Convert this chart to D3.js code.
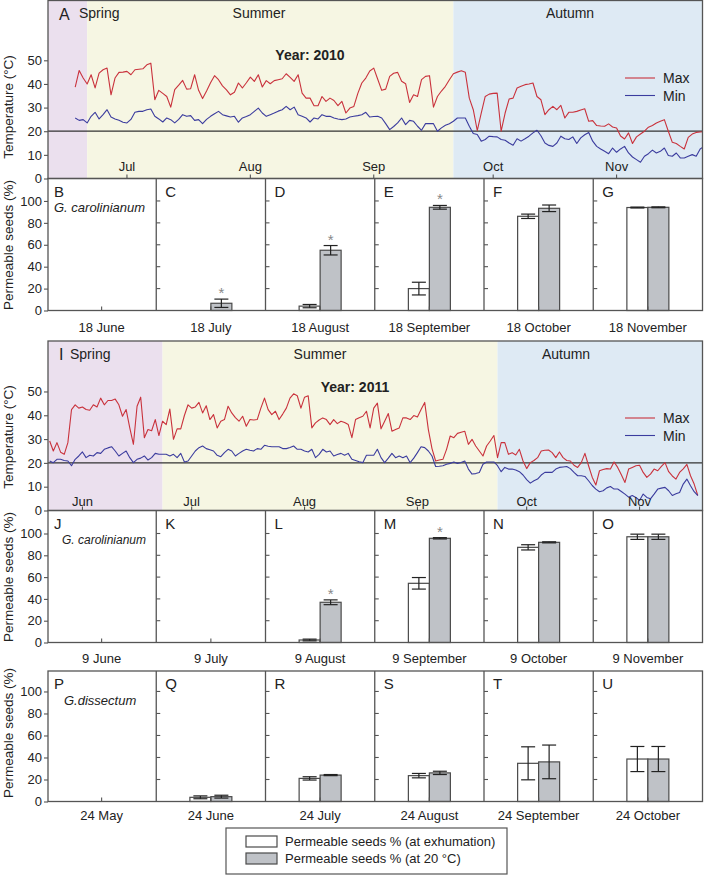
<!DOCTYPE html>
<html lang="en">
<head>
<meta charset="UTF-8">
<title>Seed permeability and soil temperature</title>
<script src="https://d3js.org/d3.v7.min.js"></script>
<style>
  body { margin: 0; background: #fff; }
  svg { font-family: "Liberation Sans", Arial, Helvetica, sans-serif; }
  svg text { fill: #222; }
  .frame { fill: none; stroke: #555; stroke-width: 1.3; }
  .tick-line { stroke: #555; stroke-width: 1.1; }
  .axis path { display: none; }
  .axis line { stroke: #555; stroke-width: 1.1; }
  .axis text { font-size: 13px; fill: #222; }
</style>
</head>
<body>
<div id="chart"></div>
<script>
// ---- daily soil temperatures (deg C) ----
const start2010 = "2010-06-18";
const max2010 = [
  38.7, 45.7, 42.5, 40.0, 43.9, 38.3, 44.6, 46.0, 46.7, 35.4, 42.5, 44.9, 45.0,
  45.3, 43.9, 46.0, 46.2, 46.4, 48.1, 48.8, 33.3, 37.3, 36.0,
  34.7, 30.2, 37.6, 39.5, 41.5, 37.8, 38.0, 43.9, 37.3, 33.8,
  37.0, 40.5, 43.5, 41.8, 39.2, 37.5, 35.4, 36.5, 40.4, 38.3,
  40.5, 42.9, 41.1, 43.9, 38.7, 41.4, 40.1, 41.4, 41.8, 42.2,
  44.3, 42.8, 41.1, 43.9, 36.1, 34.0, 34.0, 30.8, 30.8, 34.7,
  32.6, 34.0, 33.0, 30.8, 32.6, 27.7, 29.8, 30.5, 36.0, 40.4,
  42.5, 45.5, 46.7, 42.0, 37.3, 37.8, 43.2, 44.5, 44.9, 41.1,
  40.1, 32.2, 35.4, 34.7, 41.8, 43.2, 43.5, 30.2, 34.7, 37.0,
  39.0, 41.8, 44.3, 45.0, 45.6, 44.9, 34.0, 29.1, 20.3, 27.7,
  34.7, 35.7, 36.0, 36.1, 20.0, 27.7, 33.6, 34.0, 38.3, 39.0,
  39.7, 40.0, 40.4, 34.7, 33.3, 27.0, 29.1, 30.5, 29.1, 30.9,
  25.6, 28.0, 28.0, 28.4, 29.0, 29.5, 24.2, 24.5, 22.4, 22.2,
  22.1, 23.1, 21.8, 21.4, 18.0, 16.7, 19.3, 14.8, 17.6, 18.8,
  20.0, 21.7, 22.4, 23.5, 24.2, 24.9, 20.0, 15.3, 14.8, 13.6,
  12.5, 17.4, 18.8, 19.5, 19.7, 19.8
];
const min2010 = [
  25.6, 24.6, 24.9, 23.5, 26.3, 28.0, 25.2, 27.0, 29.1, 26.0, 25.2, 24.6, 23.8,
  23.5, 25.0, 28.0, 28.4, 28.4, 29.1, 29.4, 26.3, 25.2, 23.9,
  25.6, 24.9, 23.5, 25.0, 27.0, 26.3, 26.6, 24.6, 24.9, 23.2,
  25.0, 26.3, 27.4, 28.4, 27.0, 26.5, 26.0, 26.3, 23.8, 25.6,
  26.2, 27.0, 28.4, 29.8, 27.7, 26.3, 27.0, 27.7, 28.5, 29.1,
  30.5, 29.1, 30.2, 27.0, 26.3, 25.6, 23.9, 25.6, 25.2, 27.0,
  26.3, 26.3, 25.6, 25.2, 24.9, 25.2, 26.0, 26.3, 26.6, 27.0,
  28.0, 26.0, 26.2, 26.3, 25.6, 23.2, 20.7, 22.0, 23.5, 25.6,
  22.8, 24.6, 24.2, 22.1, 20.4, 23.2, 23.2, 23.2, 20.0, 21.4,
  22.5, 23.2, 24.2, 25.6, 25.6, 25.6, 22.1, 19.0, 18.6, 15.8,
  16.5, 17.9, 17.7, 17.6, 16.5, 16.2, 15.0, 14.1, 16.8, 15.8,
  16.8, 17.9, 19.3, 20.4, 18.1, 15.0, 14.0, 13.6, 15.0, 17.9,
  16.8, 16.5, 17.6, 14.8, 17.2, 18.5, 19.5, 15.8, 13.6, 12.5,
  11.5, 10.5, 12.9, 11.1, 12.5, 13.6, 10.8, 9.1, 8.0, 6.9,
  9.4, 10.5, 12.0, 10.8, 11.5, 12.9, 9.7, 9.4, 10.8, 8.7,
  8.7, 9.4, 10.1, 9.4, 12.5, 13.6
];

const start2011 = "2011-05-23";
const max2011 = [
  29.2, 25.0, 28.5, 24.5, 23.6, 28.5, 42.4, 44.4, 43.0,
  43.5, 42.4, 42.1, 44.4, 43.5, 47.2, 44.4, 46.2, 46.2, 46.8,
  44.4, 39.6, 42.4, 34.7, 27.8, 43.8, 47.6, 30.6, 34.0, 33.5,
  38.2, 31.5, 37.5, 36.1, 42.6, 29.9, 34.3, 34.3, 39.9, 44.4,
  43.0, 43.5, 45.4, 41.0, 44.0, 38.2, 40.3, 34.7, 37.5, 38.2,
  43.8, 41.0, 39.0, 37.5, 39.6, 35.4, 38.2, 38.0, 38.2, 43.0,
  47.2, 42.4, 40.3, 41.7, 38.2, 40.5, 43.0, 47.2, 49.0, 48.2,
  43.0, 47.6, 48.2, 34.7, 36.8, 38.0, 38.9, 38.2, 36.1, 38.2,
  36.5, 37.5, 37.0, 36.1, 30.6, 38.2, 39.0, 39.6, 41.7, 34.7,
  43.0, 45.1, 34.3, 37.5, 40.7, 33.3, 34.0, 34.7, 38.9, 38.9,
  38.2, 39.9, 39.3, 42.4, 45.4, 34.0, 26.0, 20.8, 21.2, 21.5,
  25.7, 31.3, 30.6, 32.4, 32.9, 33.3, 27.8, 29.9, 27.1, 25.0,
  22.9, 27.1, 29.2, 31.5, 22.2, 28.5, 28.5, 23.6, 24.3, 23.3,
  25.7, 20.8, 17.6, 20.1, 21.0, 22.2, 25.0, 25.3, 25.4, 24.3,
  22.2, 24.6, 22.2, 21.0, 20.8, 19.0, 18.1, 20.1, 24.0, 18.8,
  14.0, 10.7, 16.7, 17.2, 17.6, 17.4, 20.4, 18.1, 15.0, 11.8,
  17.4, 18.1, 18.8, 19.0, 16.0, 13.9, 15.3, 17.4, 16.7, 18.5,
  20.1, 16.3, 14.5, 13.2, 16.0, 17.5, 19.4, 14.6, 11.1, 6.3
];
const min2011 = [
  20.8, 20.1, 21.5, 21.5, 21.0, 20.8, 18.8, 21.5, 22.9,
  24.6, 22.2, 23.2, 22.9, 24.3, 24.0, 25.7, 26.3, 26.8, 25.0,
  22.9, 24.0, 25.0, 22.2, 20.1, 21.5, 22.0, 22.9, 21.2, 22.2,
  24.0, 23.6, 23.6, 23.6, 22.9, 23.6, 22.2, 24.0, 20.4, 20.8,
  22.9, 25.0, 26.4, 27.1, 26.0, 25.5, 25.0, 23.2, 22.6, 24.3,
  25.7, 25.0, 22.9, 24.0, 25.0, 25.7, 25.3, 25.0, 26.0, 25.7,
  27.4, 27.0, 26.8, 26.8, 26.8, 26.0, 26.0, 26.5, 27.1, 25.7,
  25.7, 25.0, 24.6, 25.7, 22.2, 23.6, 25.7, 24.6, 25.0, 22.9,
  23.5, 24.0, 23.2, 24.0, 21.5, 21.0, 20.5, 20.1, 23.2, 23.2,
  23.2, 25.7, 22.2, 20.1, 22.0, 24.0, 22.2, 22.9, 22.2, 22.9,
  20.1, 22.0, 24.3, 26.8, 26.4, 25.0, 22.9, 18.5, 18.6, 18.8,
  19.4, 19.8, 20.4, 19.8, 20.2, 20.8, 17.4, 15.3, 15.5, 16.0,
  19.4, 20.4, 20.4, 20.4, 18.8, 16.3, 18.1, 17.4, 17.4, 17.0,
  16.3, 14.9, 13.0, 11.5, 12.5, 13.2, 14.9, 16.0, 16.0, 16.0,
  17.4, 18.1, 18.3, 18.5, 17.6, 16.0, 14.6, 14.6, 14.3, 12.5,
  10.5, 9.0, 7.9, 8.3, 9.5, 10.1, 9.0, 9.0, 8.0, 6.9,
  5.6, 6.3, 5.5, 4.2, 6.9, 5.5, 4.9, 6.9, 9.0, 9.4,
  9.7, 8.3, 6.3, 7.0, 7.6, 11.1, 13.2, 10.4, 7.9, 6.3
];

const seasonNames = ["Spring", "Summer", "Autumn"];
const seasonBreaks2010 = ["2010-06-21", "2010-09-21"];
const seasonBreaks2011 = ["2011-06-23", "2011-09-23"];
const tempTicks = [0, 10, 20, 30, 40, 50];

// ---- permeable seeds (%) ----
const panelsRow1 = ["B", "C", "D", "E", "F", "G"];
const datesRow1 = ["18 June", "18 July", "18 August", "18 September", "18 October", "18 November"];
const exhumRow1 = [0, 0, 4, 20, 86, 94];
const exhumErrRow1 = [0, 0, 1.5, 5.8, 2, 0.4];
const at20Row1 = [0, 6.6, 55, 94.2, 93.3, 94.2];
const at20ErrRow1 = [0, 3.8, 4.3, 1.7, 3, 0.4];
const starRow1 = [false, true, true, true, false, false];

const panelsRow2 = ["J", "K", "L", "M", "N", "O"];
const datesRow2 = ["9 June", "9 July", "9 August", "9 September", "9 October", "9 November"];
const exhumRow2 = [0, 0, 2.3, 54.3, 87.3, 97];
const exhumErrRow2 = [0, 0, 0.8, 5.3, 2.4, 2.4];
const at20Row2 = [0, 0, 36.9, 95.6, 91.9, 97];
const at20ErrRow2 = [0, 0, 2.2, 0.6, 0.5, 2.4];
const starRow2 = [false, false, true, true, false, false];

const panelsRow3 = ["P", "Q", "R", "S", "T", "U"];
const datesRow3 = ["24 May", "24 June", "24 July", "24 August", "24 September", "24 October"];
const exhumRow3 = [0, 3.8, 21, 23.5, 34.7, 38.6];
const exhumErrRow3 = [0, 1.3, 1.5, 2, 15, 11.4];
const at20Row3 = [0, 4.4, 24, 26, 36, 38.6];
const at20ErrRow3 = [0, 1.3, 0.5, 1.5, 15.3, 11.4];
const starRow3 = [false, false, false, false, false, false];

const barTicks = [0, 20, 40, 60, 80, 100];
const legendLabels = ["Permeable seeds % (at exhumation)", "Permeable seeds % (at 20 \u00b0C)"];

// ---- layout ----
const width = 704, height = 875;
const left = 48, right = 702.5;
const colors = {
    seasons: ["#ebe0ee", "#f6f6e3", "#deeaf4"],
    max: "#c9323c",
    min: "#3b3c9e",
    exhum: "#ffffff",
    at20: "#bfc2c7"
};
const parseDay = d3.timeParse("%Y-%m-%d");

const svg = d3.select("#chart")
    .append("svg")
    .attr("width", width)
    .attr("height", height);

function drawTempPanel(cfg) {
    const x = d3.scaleTime().domain(cfg.domain).range([left, right]);
    const y = d3.scaleLinear().domain([0, cfg.yMax]).range([cfg.bottom, cfg.top]);
    const g = svg.append("g");

    const clipId = "clip-" + cfg.letter;
    g.append("clipPath").attr("id", clipId)
        .append("rect")
        .attr("x", left).attr("y", cfg.top)
        .attr("width", right - left).attr("height", cfg.bottom - cfg.top);

    // season bands
    const edges = [cfg.domain[0], ...cfg.breaks.map(parseDay), cfg.domain[1]];
    g.selectAll(".season")
        .data(seasonNames)
        .enter().append("rect")
        .attr("x", (d, i) => x(edges[i]))
        .attr("width", (d, i) => x(edges[i + 1]) - x(edges[i]))
        .attr("y", cfg.top)
        .attr("height", cfg.bottom - cfg.top)
        .attr("fill", (d, i) => colors.seasons[i]);

    g.selectAll(".season-label")
        .data(seasonNames)
        .enter().append("text")
        .attr("x", (d, i) => cfg.seasonX[i])
        .attr("y", cfg.top + 17.5)
        .attr("text-anchor", (d, i) => i === 0 ? "start" : "middle")
        .attr("font-size", 14)
        .text(d => d);

    // 20 C reference line
    g.append("line")
        .attr("x1", left).attr("x2", right)
        .attr("y1", y(20)).attr("y2", y(20))
        .attr("stroke", "#333").attr("stroke-width", 1.3);

    const start = parseDay(cfg.start);
    const line = d3.line()
        .x((d, i) => x(d3.timeDay.offset(start, i)))
        .y(d => y(d));

    [[cfg.max, colors.max], [cfg.min, colors.min]].forEach(([vals, col]) => {
        g.append("path")
            .datum(vals)
            .attr("clip-path", `url(#${clipId})`)
            .attr("fill", "none")
            .attr("stroke", col)
            .attr("stroke-width", 1.1)
            .attr("stroke-linejoin", "round")
            .attr("d", line);
    });

    // y axis
    g.append("g")
        .attr("class", "axis")
        .attr("transform", `translate(${left},0)`)
        .call(d3.axisLeft(y).tickValues(tempTicks).tickSize(4).tickPadding(2));

    // month ticks (inside, labels above the axis)
    const months = d3.timeMonth.range(d3.timeMonth.ceil(cfg.domain[0]), cfg.domain[1]);
    g.selectAll(".month-tick")
        .data(months)
        .enter().append("line")
        .attr("class", "tick-line")
        .attr("x1", d => x(d)).attr("x2", d => x(d))
        .attr("y1", cfg.bottom).attr("y2", cfg.bottom - 4);
    g.selectAll(".month-label")
        .data(months)
        .enter().append("text")
        .attr("x", d => x(d))
        .attr("y", cfg.bottom - cfg.monthGap)
        .attr("text-anchor", "middle")
        .attr("font-size", 13)
        .text(d3.timeFormat("%b"));

    // panel letter, year, legend
    g.append("text")
        .attr("x", 59).attr("y", cfg.top + 19)
        .attr("font-size", 16)
        .text(cfg.letter);

    g.append("text")
        .attr("x", cfg.yearX).attr("y", cfg.yearY)
        .attr("text-anchor", "middle")
        .attr("font-size", 14)
        .attr("font-weight", "bold")
        .text(cfg.year);

    const legend = g.selectAll(".leg")
        .data([["Max", colors.max], ["Min", colors.min]])
        .enter().append("g")
        .attr("transform", (d, i) => `translate(625,${cfg.legendY + i * 17.5})`);
    legend.append("line")
        .attr("x1", 0).attr("x2", 30)
        .attr("stroke", d => d[1]).attr("stroke-width", 1.1);
    legend.append("text")
        .attr("x", 38).attr("y", 5)
        .attr("font-size", 14)
        .text(d => d[0]);

    g.append("text")
        .attr("transform", `translate(13,${cfg.titleY}) rotate(-90)`)
        .attr("text-anchor", "middle")
        .attr("font-size", 13.5)
        .text("Temperature (\u00b0C)");

    g.append("rect")
        .attr("class", "frame")
        .attr("x", left).attr("y", cfg.top)
        .attr("width", right - left).attr("height", cfg.bottom - cfg.top);
}

function drawBarRow(cfg) {
    const rows = cfg.panels.map((p, i) => ({
        panel: p,
        date: cfg.dates[i],
        exhum: cfg.exhum[i], exhumErr: cfg.exhumErr[i],
        at20: cfg.at20[i], at20Err: cfg.at20Err[i],
        star: cfg.star[i]
    }));
    const x = d3.scaleBand().domain(cfg.panels).range([left - 1, right]);
    const y = d3.scaleLinear().domain([0, cfg.yMax]).range([cfg.bottom, cfg.top]);
    const g = svg.append("g");
    const barW = 21;
    const mid = d => x(d.panel) + x.bandwidth() / 2;

    const bars = [];
    rows.forEach(d => {
        bars.push({ cx: mid(d), off: -barW, v: d.exhum, e: d.exhumErr, fill: colors.exhum });
        bars.push({ cx: mid(d), off: 0, v: d.at20, e: d.at20Err, fill: colors.at20, star: d.star });
    });
    const shown = bars.filter(b => b.v > 0);

    g.selectAll(".bar")
        .data(shown)
        .enter().append("rect")
        .attr("x", b => b.cx + b.off)
        .attr("width", barW)
        .attr("y", b => y(b.v))
        .attr("height", b => y(0) - y(b.v))
        .attr("fill", b => b.fill)
        .attr("stroke", "#4a4a4a")
        .attr("stroke-width", 1.2);

    const errs = g.selectAll(".err")
        .data(shown.filter(b => b.e > 0))
        .enter().append("g")
        .attr("stroke", "#222").attr("stroke-width", 1.2);
    errs.append("line")
        .attr("x1", b => b.cx + b.off + barW / 2).attr("x2", b => b.cx + b.off + barW / 2)
        .attr("y1", b => y(b.v - b.e)).attr("y2", b => y(b.v + b.e));
    [1, -1].forEach(s => {
        errs.append("line")
            .attr("x1", b => b.cx + b.off + barW / 2 - 7).attr("x2", b => b.cx + b.off + barW / 2 + 7)
            .attr("y1", b => y(b.v + s * b.e)).attr("y2", b => y(b.v + s * b.e));
    });

    g.selectAll(".star")
        .data(shown.filter(b => b.star))
        .enter().append("text")
        .attr("x", b => b.cx + b.off + barW / 2)
        .attr("y", b => y(b.v + b.e) - 1)
        .attr("text-anchor", "middle")
        .attr("font-size", 15)
        .style("fill", "#888")
        .text("*");

    // axis on first panel, inward ticks on the others
    g.append("g")
        .attr("class", "axis")
        .attr("transform", `translate(${left},0)`)
        .call(d3.axisLeft(y).tickValues(barTicks).tickSize(4).tickPadding(2));

    cfg.panels.slice(1).forEach(p => {
        g.selectAll(null)
            .data(barTicks.slice(1))
            .enter().append("line")
            .attr("class", "tick-line")
            .attr("x1", x(p)).attr("x2", x(p) + 4)
            .attr("y1", v => y(v)).attr("y2", v => y(v));
        g.append("line")
            .attr("class", "frame")
            .attr("x1", x(p)).attr("x2", x(p))
            .attr("y1", cfg.top).attr("y2", cfg.bottom);
    });

    g.selectAll(".cat-tick")
        .data(rows)
        .enter().append("line")
        .attr("class", "tick-line")
        .attr("x1", mid).attr("x2", mid)
        .attr("y1", cfg.bottom).attr("y2", cfg.bottom - 4);

    g.selectAll(".cat-label")
        .data(rows)
        .enter().append("text")
        .attr("x", mid)
        .attr("y", cfg.labelY)
        .attr("text-anchor", "middle")
        .attr("font-size", 13)
        .text(d => d.date);

    g.selectAll(".letter")
        .data(rows)
        .enter().append("text")
        .attr("x", (d, i) => x(d.panel) + (i === 0 ? 7 : 9))
        .attr("y", cfg.top + 18)
        .attr("font-size", 15)
        .text(d => d.panel);

    g.append("text")
        .attr("x", cfg.speciesX).attr("y", cfg.top + 33.5)
        .attr("font-size", cfg.speciesSize)
        .attr("font-style", "italic")
        .text(cfg.species);

    g.append("text")
        .attr("transform", `translate(13,${cfg.titleY}) rotate(-90)`)
        .attr("text-anchor", "middle")
        .attr("font-size", 13.5)
        .text("Permeable seeds (%)");

    g.append("rect")
        .attr("class", "frame")
        .attr("x", left).attr("y", cfg.top)
        .attr("width", right - left).attr("height", cfg.bottom - cfg.top);
}

drawTempPanel({
    letter: "A", year: "Year: 2010",
    domain: [new Date(2010, 5, 11, 4), new Date(2010, 10, 22, 14)],
    start: start2010, max: max2010, min: min2010, breaks: seasonBreaks2010,
    top: 0.5, bottom: 178.5, yMax: 75.3,
    seasonX: [79, 259, 570], yearX: 310, yearY: 60, legendY: 78,
    monthGap: 7.5, titleY: 107
});
drawBarRow({
    panels: panelsRow1, dates: datesRow1,
    exhum: exhumRow1, exhumErr: exhumErrRow1, at20: at20Row1, at20Err: at20ErrRow1, star: starRow1,
    top: 178.5, bottom: 310.5, yMax: 120.5, labelY: 331.5,
    species: "G. carolinianum", speciesX: 54, speciesSize: 13, titleY: 245
});
drawTempPanel({
    letter: "I", year: "Year: 2011",
    domain: [new Date(2011, 4, 22, 13), new Date(2011, 10, 18, 7)],
    start: start2011, max: max2011, min: min2011, breaks: seasonBreaks2011,
    top: 341, bottom: 510.5, yMax: 71.2,
    seasonX: [70, 320, 566], yearX: 355, yearY: 391.5, legendY: 418,
    monthGap: 5, titleY: 437
});
drawBarRow({
    panels: panelsRow2, dates: datesRow2,
    exhum: exhumRow2, exhumErr: exhumErrRow2, at20: at20Row2, at20Err: at20ErrRow2, star: starRow2,
    top: 510.5, bottom: 642.5, yMax: 121.1, labelY: 663,
    species: "G. carolinianum", speciesX: 62, speciesSize: 12, titleY: 577
});
drawBarRow({
    panels: panelsRow3, dates: datesRow3,
    exhum: exhumRow3, exhumErr: exhumErrRow3, at20: at20Row3, at20Err: at20ErrRow3, star: starRow3,
    top: 671, bottom: 801.5, yMax: 118.6, labelY: 820,
    species: "G.dissectum", speciesX: 64, speciesSize: 13, titleY: 733
});

// legend
const legend = svg.append("g");
legend.append("rect")
    .attr("x", 226).attr("y", 828)
    .attr("width", 281).attr("height", 46)
    .attr("fill", "#fff").attr("stroke", "#555").attr("stroke-width", 1.2);
const items = legend.selectAll(".item")
    .data(legendLabels)
    .enter().append("g")
    .attr("transform", (d, i) => `translate(246,${836 + i * 17})`);
items.append("rect")
    .attr("width", 31).attr("height", 11)
    .attr("fill", (d, i) => i === 0 ? colors.exhum : colors.at20)
    .attr("stroke", "#4a4a4a").attr("stroke-width", 1.2);
items.append("text")
    .attr("x", 39).attr("y", 10)
    .attr("font-size", 13)
    .text(d => d);
</script>
</body>
</html>
